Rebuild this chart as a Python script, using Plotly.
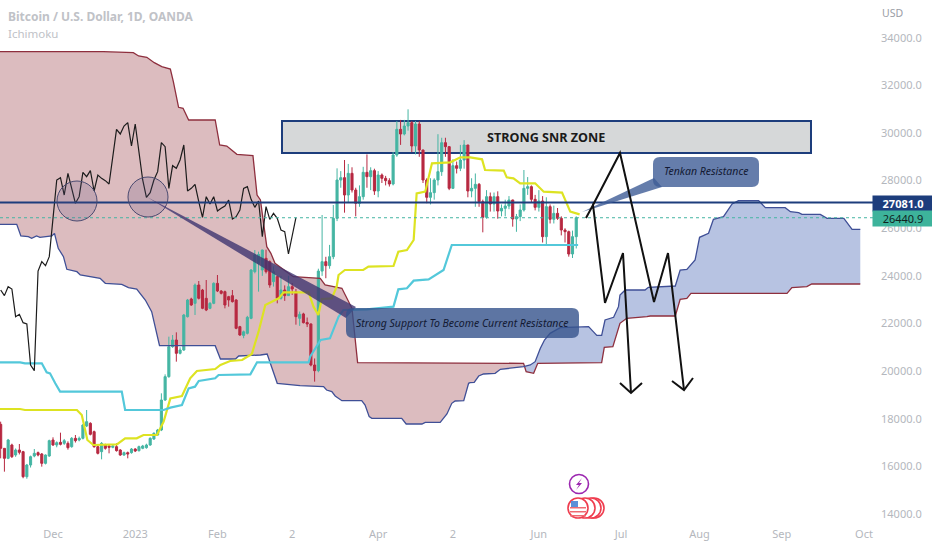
import plotly.graph_objects as go

# Daily candles, weekdays only, bar 0 is 11 Nov 2022
opens = [17764,16756,16336,16896,16476,16686,16616,15566,16056,16434,
         16574,16518,16126,16434,17106,16896,17008,16966,16966,16826,
         17176,17106,17176,17694,17806,17456,16826,16616,16896,16854,
         16798,16826,16686,16476,16574,16574,16728,16658,16756,16784,
         16896,17148,17316,17526,18786,19766,21026,21306,20746,20886,
         22286,23028,22846,23616,23406,23056,22636,22846,23686,23364,
         23336,23126,23168,22986,21866,21500,21586,22216,24176,24526,
         24246,24736,24596,23756,23966,23056,23406,23170,23546,23336,
         22216,22400,22040,21980,20256,20018,24200,24596,24428,24806,
         26416,28026,28124,27396,28306,27606,27046,27326,28348,28166,
         28418,27564,28236,28096,27998,27858,29076,30154,29958,30294,
         30434,29454,30378,29286,28026,27298,27494,28026,28376,29594,
         29426,27676,28628,28516,28866,29496,27564,27676,27844,27116,
         26458,27326,27018,27326,26724,26836,26934,27186,26388,26486,
         26766,27676,27746,27214,26878,27144,25646,26906,26374,26626,
         26416,25926,25856,24918,25646]
closes = [16756,16336,17106,16406,16686,16588,15566,16056,16406,16546,
          16476,16126,16476,17078,16896,16994,16924,17078,16784,17176,
          17078,17176,17736,17876,17344,16826,16546,16966,16756,16798,
          16850,16658,16476,16574,16518,16728,16644,16826,16854,16896,
          17176,17386,17526,18786,19766,21026,21306,20746,20886,22356,
          22986,22776,23616,23056,22636,22566,22846,23686,23364,23266,
          22776,22986,22916,21796,21516,21650,22258,24246,24876,24900,
          25086,24176,23616,24176,23056,23406,23170,23546,23448,22286,
          22384,22034,21978,20256,20018,24200,24596,24428,24806,26416,
          28026,28124,27396,28306,27606,27046,27326,28348,28166,28418,
          27564,28236,28096,27998,27858,29076,30154,29958,30294,30434,
          29454,30378,29286,28026,27298,27494,28026,28376,29594,29426,
          27676,28628,28516,28866,29496,27564,27676,27844,27116,26458,
          27326,27018,27326,26724,26836,26934,27186,26388,26486,26766,
          27676,27746,27214,26878,27144,25646,26906,26374,26626,26416,
          25926,25856,24918,25646,26440.9]
highs = [17876,16756,17150,16950,16750,16938,16650,16100,16450,16728,
         16620,16560,16500,17120,17218,17050,17414,17150,17050,17230,
         17316,17250,17780,18366,17850,17500,16870,17020,16950,16900,
         16920,16966,16720,16620,16620,16770,16760,16870,16900,16950,
         17220,17430,17570,19066,19864,21446,21516,21628,21000,22400,
         23030,23080,23680,23784,23450,23826,22900,23730,24036,23400,
         23380,23160,23406,23020,21900,21700,22320,24280,25086,25016,
         25100,25100,24650,24400,24000,24000,23600,24000,23700,23450,
         22500,22450,22250,22000,20530,24300,26556,24800,25300,26976,
         28516,28400,28866,28700,28560,27700,27800,28580,29100,28560,
         28500,28400,28300,28200,28100,29200,30500,30550,30550,30994,
         30500,30500,30500,29300,28100,28100,28100,29950,29800,29800,
         29450,28900,28800,29500,29700,29500,28100,28300,27900,27200,
         27600,27500,27500,27550,27000,27200,27350,27200,26600,27000,
         28446,28150,27800,27400,27600,27350,27300,27000,26950,26850,
         26500,26000,25900,25900,26500]
lows = [16336,15776,16300,16350,16400,16500,15500,15480,15950,16380,
        16420,15986,16080,16400,16860,16800,16880,16900,16700,16780,
        17000,17050,17130,17650,17300,16780,16500,16294,16700,16546,
        16760,16620,16440,16440,16336,16530,16600,16620,16720,16740,
        16860,17110,17280,17480,18750,19720,20980,20396,20700,20850,
        22250,22740,22356,23010,22600,22520,22600,22810,23320,23220,
        22636,22706,22880,21760,21480,21380,21540,22180,24106,23336,
        24000,24100,23500,23550,22846,23000,22950,23200,23200,21950,
        21900,22000,21850,20200,19556,19950,24000,23900,24300,24700,
        26300,27700,26654,27100,27500,26500,26900,27200,27700,27600,
        27400,27300,27900,27800,27750,27800,29000,29500,29900,30100,
        29200,29100,29000,27900,27050,27000,27200,27800,28200,29000,
        27600,27650,28300,28400,28500,27300,27300,26900,26900,25828,
        26400,26700,26700,26400,26500,26500,26800,26066,25850,26300,
        26700,27400,27100,26750,26700,25400,25300,26200,26200,26350,
        25700,25400,24806,24750,25150]

# Ichimoku lines, read as (bar, price)
tenkan_bar = [-1,5.2,6.5,20.4,21.7,22.6,23.2,24.8,31.1,33.3,36.4,38.2,41.8,43.6,45.4,48.5,50.7,52.5,57.4,58.8,61.4,64.6,67.2,69,70.8,74.4,75.7,82.4,83.7,85,85.9,88.6,89.9,90.4,92.1,97,98.4,105.1,106.4,108.7,110.5,111.3,113.6,115.4,120.3,123,125.6,128.8,129.6,134.6,135.4,137.2,139,143,145.3,150.2,152.4,154.9]
tenkan_val = [18408,18408,18366,18366,18156,17456,17106,16896,16924,17176,17176,17316,17316,17876,18856,18954,19696,20004,20088,20256,20424,20466,20718,21656,22776,23056,23308,23308,22706,22356,23028,23056,23546,24036,24246,24246,24386,24414,25016,25086,25506,27466,27536,28726,28768,28978,28978,28894,28446,28418,28138,28096,27886,27886,27536,27494,26696,26584]
kijun_bar = [-1,5.2,6.5,11,12.3,13.2,14.6,15.9,32.4,33.3,43.6,45.4,48.5,50.3,52,53,57.4,58.3,66.8,68.6,82.4,82.8,85.6,88.1,90.4,91.7,98,105.1,106.4,108.7,110.5,114.5,118.5,120.7,154.5]
kijun_val = [20368,20368,20326,20326,19948,19906,19486,19136,19136,18366,18366,18464,18576,19276,19346,19584,19696,19836,19864,20368,20368,20606,21306,21376,22286,22566,22594,22706,23434,23476,23798,23854,24246,25296,25296]
span_a_bar = [-1,4.3,5.4,7.4,8.3,9.6,10.5,13.7,14.4,15.4,16.8,17.7,20.4,21.3,26.6,28,32.4,34.2,36.4,38.7,40.4,42.5,57.4,58.8,62.8,63.7,69.5,71.3,74,80.1,86.4,87.2,88.6,89.5,91.3,96.6,97.5,98.6,99.3,107.3,108.5,112.7,113.6,117.6,119.4,120.7,121.6,123.9,125.2,125.6,126.7,127.9,129.2,132.3,133.7,135.9,139.9,141.7,143,144.4,145.5,147,149.7,157.3,158.2,159.5,160.8,161.7,164,165.3,165.7,167.1,172.4,173.3,180.5,181.8,183.6,185.8,187,189.4,190.7,193.4,195.7,197.4,202.8,204.6,209.9,211.3,213.5,214.4,219.3,221.1,225.6,227.8,230]
span_a_val = [26164,26164,25674,25646,25576,25674,25618,25674,25786,25156,24806,24274,24176,24036,23896,23686,23644,23504,23448,22986,22496,21068,21068,20508,20508,20634,20676,20718,19486,19388,19346,19206,19136,18954,18758,18758,18576,18086,18016,18016,17778,17778,17848,17848,18198,18646,18744,18758,19486,19514,19528,19794,19878,19906,20074,20116,20186,20256,20396,20956,21306,21586,21824,21866,21698,21502,21502,22146,22258,22706,23196,23406,23406,23518,23574,24246,24274,24666,25618,25786,26374,26486,27018,27158,27158,26864,26864,26696,26654,26584,26584,26416,26416,25954,25954]
span_b_bar = [-1,27.5,35.5,36.9,39.1,41.1,43.1,45.4,46.2,47.6,48.8,50.3,57.4,58.6,60.5,63.2,67.5,68.6,69.5,71.2,72.3,73.4,78.3,85.5,86.8,91.3,92.2,94,95.5,139.9,140.6,142.6,143.7,160.8,161.5,163.8,165.7,167.5,172.9,173.8,180.5,181.8,183.6,184.7,210.4,211.7,215.7,217,230]
span_b_val = [33416,33416,33374,33234,33178,32954,32786,32688,32156,31078,31036,30546,30546,29496,29454,29104,29048,27396,27186,25226,24946,24526,23966,23896,23616,23476,23196,22636,20354,20326,19976,19906,20326,20354,20998,21026,22006,22216,22286,22314,22314,23014,23056,23266,23266,23504,23546,23658,23658]

cloud_cross = 140  # bar where span A goes above span B
chikou_shift = 75

x_tick_bars = [14,36,58,78,101,121,144,166,187,209,231]
x_tick_text = ["Dec","2023","Feb","2","Apr","2","Jun","Jul","Aug","Sep","Oct"]

hline_price = 27081.0
last_price = 26440.9

W, H = 932, 550
PLOT_W, PLOT_H = 873, 526

def px(x):
    return x / PLOT_W

def py(y):
    return 1 - y / PLOT_H

def poly(points, close=True):
    d = "M" + " L".join(f"{px(a):.5f},{py(b):.5f}" for a, b in points)
    return d + (" Z" if close else "")

def draw(points, close=True, **kw):
    return dict(type="path", xref="paper", yref="paper", path=poly(points, close), **kw)

def circle(cx, cy, r, **kw):
    return dict(type="circle", xref="paper", yref="paper", x0=px(cx - r), x1=px(cx + r),
                y0=py(cy + r), y1=py(cy - r), **kw)

def rounded(x0, y0, x1, y1, r):
    # rounded box as svg path
    a, b, c, e = px(x0), py(y0), px(x1), py(y1)
    rx, ry = r / PLOT_W, r / PLOT_H
    return (f"M{a+rx},{b} L{c-rx},{b} Q{c},{b} {c},{b-ry} L{c},{e+ry} Q{c},{e} {c-rx},{e} "
            f"L{a+rx},{e} Q{a},{e} {a},{e+ry} L{a},{b-ry} Q{a},{b} {a+rx},{b} Z")

def cloud_path(keep):
    # cloud goes under the candles, so it is a below-layer shape on the data axes
    a = [(b, v) for b, v in zip(span_a_bar, span_a_val) if keep(b)]
    c = [(b, v) for b, v in zip(span_b_bar, span_b_val) if keep(b)]
    return "M" + " L".join(f"{b},{v}" for b, v in a + c[::-1]) + " Z"

fig = go.Figure()

fig.add_trace(go.Scatter(x=span_b_bar, y=span_b_val, mode="lines",
                         line=dict(color="#8e2f3e", width=1.3)))
fig.add_trace(go.Scatter(x=span_a_bar, y=span_a_val, mode="lines",
                         line=dict(color="#3f4f96", width=1.3)))
fig.add_trace(go.Scatter(x=tenkan_bar, y=tenkan_val, mode="lines",
                         line=dict(color="#dde322", width=2.2)))
fig.add_trace(go.Scatter(x=kijun_bar, y=kijun_val, mode="lines",
                         line=dict(color="#53c8da", width=2.2)))

bars = list(range(len(closes)))
fig.add_trace(go.Scatter(x=[b - chikou_shift for b in bars[chikou_shift:]], y=closes[chikou_shift:],
                         mode="lines", line=dict(color="#1c1c1c", width=1.2)))
fig.add_trace(go.Candlestick(x=bars, open=opens, high=highs, low=lows, close=closes,
                             increasing=dict(line=dict(color="#45b5a3", width=1), fillcolor="#45b5a3"),
                             decreasing=dict(line=dict(color="#b72840", width=1), fillcolor="#b72840"),
                             whiskerwidth=0))

shapes = [
    dict(type="path", xref="x", yref="y", path=cloud_path(lambda b: b <= cloud_cross),
         fillcolor="#dcbcbf", line=dict(width=0), layer="below"),
    dict(type="path", xref="x", yref="y", path=cloud_path(lambda b: b >= cloud_cross - 0.2),
         fillcolor="#b7c3e2", line=dict(width=0), layer="below"),
    # snr zone, candles stay on top
    draw([(282, 121), (811, 121), (811, 153), (282, 153)], fillcolor="#d6d8d9",
         line=dict(color="#1d3d7c", width=2), layer="below"),
    dict(type="line", xref="paper", yref="y", x0=0, x1=1, y0=hline_price, y1=hline_price,
         line=dict(color="#1d3d7c", width=2)),
    dict(type="line", xref="paper", yref="y", x0=0, x1=1, y0=last_price, y1=last_price,
         line=dict(color="#45b5a3", width=1, dash="dot")),
    circle(77, 201, 20, fillcolor="rgba(90,80,130,0.2)", line=dict(color="#4a4a70", width=1)),
    circle(148, 197, 20, fillcolor="rgba(90,80,130,0.2)", line=dict(color="#4a4a70", width=1)),
    # callouts
    draw([(147, 197), (356, 307), (346, 318)], fillcolor="rgba(62,52,112,0.8)", line=dict(width=0)),
    dict(type="path", xref="paper", yref="paper", path=rounded(346, 308, 579, 338, 7),
         fillcolor="rgba(52,82,140,0.8)", line=dict(width=0)),
    draw([(582, 212), (654, 178), (662, 187)], fillcolor="rgba(62,92,150,0.8)", line=dict(width=0)),
    dict(type="path", xref="paper", yref="paper", path=rounded(653, 157, 759, 187, 7),
         fillcolor="rgba(62,92,150,0.8)", line=dict(width=0)),
    # hand drawn arrows
    draw([(586, 218), (593, 205), (605, 303), (623, 253), (631, 393)], close=False,
         line=dict(color="#111111", width=2)),
    draw([(620, 383), (631, 393), (642, 383)], close=False, line=dict(color="#111111", width=2)),
    draw([(593, 205), (620, 153), (654, 302), (668, 253), (684, 390)], close=False,
         line=dict(color="#111111", width=2)),
    draw([(672, 381), (684, 390), (693, 378)], close=False, line=dict(color="#111111", width=2)),
    # event icons
    circle(579, 484, 9.5, fillcolor="white", line=dict(color="#9c27b0", width=1.6)),
    draw([(582, 478), (576, 485), (579, 485), (576, 490), (582, 483), (579, 483)],
         fillcolor="#9c27b0", line=dict(width=0)),
]
for cx in [594, 591, 585]:
    shapes.append(circle(cx, 508, 10, fillcolor="white", line=dict(color="#ef3c4e", width=1.6)))
shapes.append(circle(578, 508, 10, fillcolor="white", line=dict(color="#ef3c4e", width=1.6)))
for sy in [507, 511, 515]:
    shapes.append(draw([(570, sy), (586, sy), (586, sy + 1.5), (570, sy + 1.5)],
                       fillcolor="#ef6a72", line=dict(width=0)))
shapes.append(draw([(571, 501), (578, 501), (578, 507), (571, 507)], fillcolor="#5b8fd8", line=dict(width=0)))

def label(x, y, text, **kw):
    base = dict(xref="paper", yref="paper", x=x / PLOT_W, y=1 - y / PLOT_H, text=text,
                showarrow=False, xanchor="center", yanchor="middle",
                font=dict(family="Noto Sans", size=11, color="#b4b7bd"))
    base.update(kw)
    return dict(base)

annotations = [
    label(6, 16, "<b>Bitcoin / U.S. Dollar, 1D, OANDA</b>", xanchor="left",
          font=dict(family="Noto Sans", size=12, color="#c0c2c7")),
    label(6, 33, "Ichimoku", xanchor="left", font=dict(family="Noto Sans", size=11.5, color="#c0c2c7")),
    label(893, 13, "USD", font=dict(family="Noto Sans", size=10.5, color="#9a9da5")),
    label(546, 137, "<b>STRONG SNR ZONE</b>", font=dict(family="Noto Sans", size=12.6, color="#1a1a1a")),
    label(462, 323, "<i>Strong Support To Become Current Resistance</i>",
          font=dict(family="Noto Sans", size=10.5, color="#131a33")),
    label(706, 171, "<i>Tenkan Resistance</i>", font=dict(family="Noto Sans", size=10.5, color="#131a33")),
    label(903, 203.5, "<b>27081.0</b>", bgcolor="#1d3d7c", width=60, height=15, borderpad=0,
          font=dict(family="Noto Sans", size=11, color="white")),
    label(903, 219, "26440.9", bgcolor="#3db39b", width=60, height=15, borderpad=0,
          font=dict(family="Noto Sans", size=11, color="#10231f")),
]

fig.update_layout(
    width=W, height=H, showlegend=False, paper_bgcolor="white", plot_bgcolor="white",
    margin=dict(l=0, r=W - PLOT_W, t=0, b=H - PLOT_H),
    shapes=shapes, annotations=annotations, hovermode=False, boxgap=0.2,
    font=dict(family="Noto Sans", size=11, color="#b4b7bd"),
)
fig.update_xaxes(range=[-0.18, 233.4], tickvals=x_tick_bars, ticktext=x_tick_text, showgrid=False,
                 zeroline=False, showline=False, ticks="", rangeslider=dict(visible=False),
                 tickfont=dict(size=11, color="#b4b7bd"))
fig.update_yaxes(range=[13494, 35586], side="right", dtick=2000, tickformat=".1f", showgrid=False,
                 zeroline=False, showline=False, ticks="", ticklabelstandoff=7,
                 tickfont=dict(size=11, color="#b4b7bd"))

fig.write_html("out.html", config=dict(displayModeBar=False),
               post_script="document.body.style.margin='0';")
